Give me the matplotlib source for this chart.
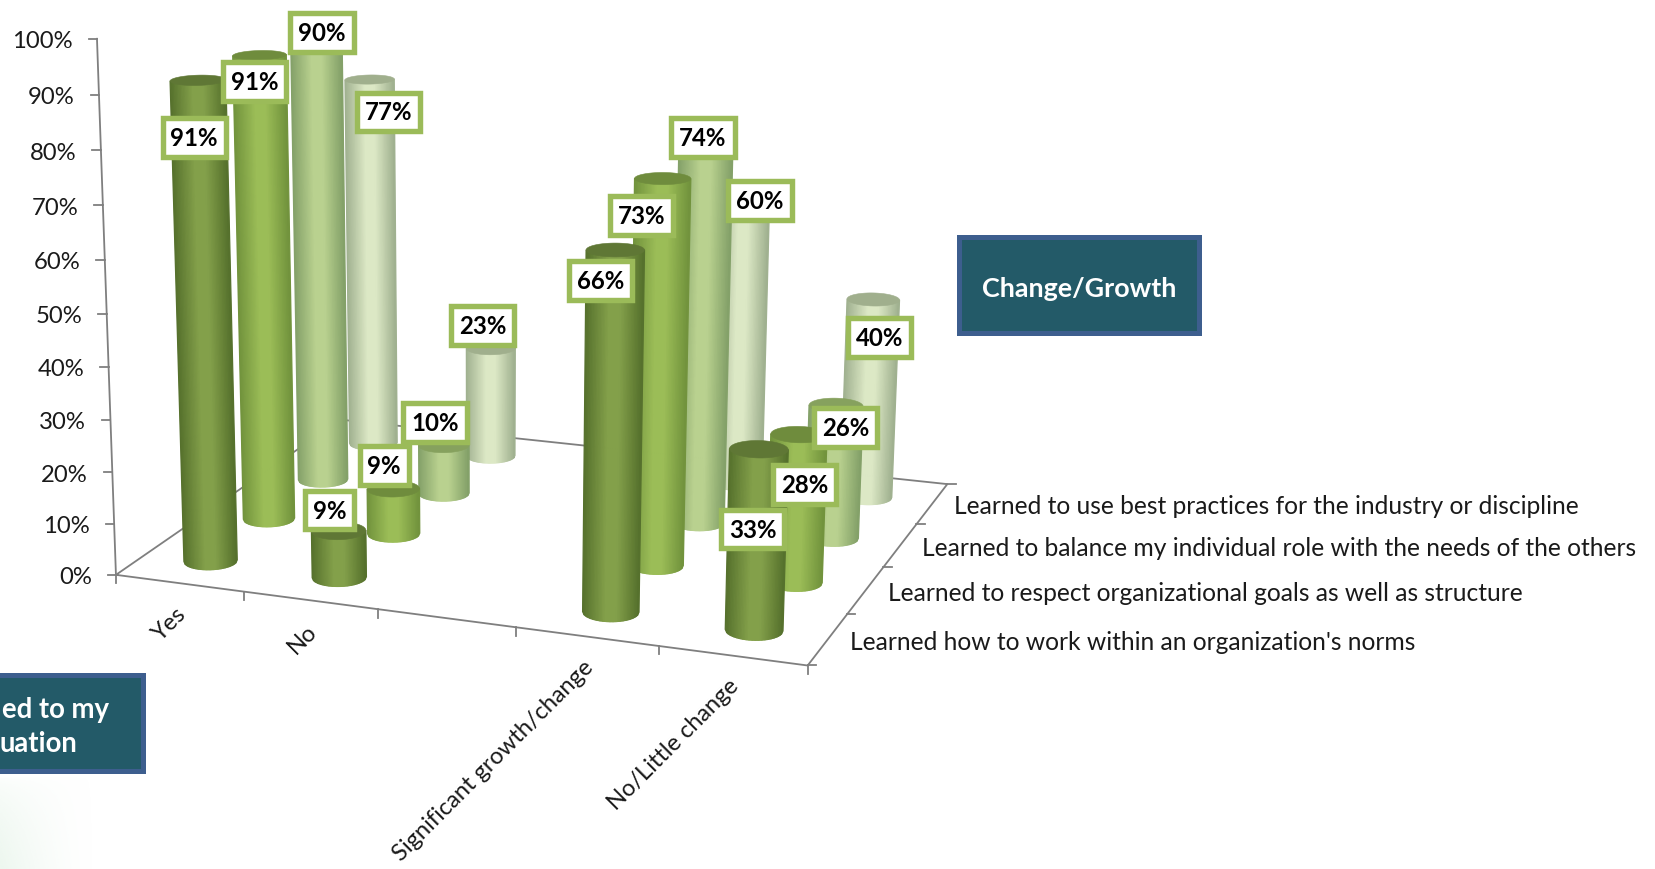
import numpy as np
import matplotlib
matplotlib.use('Agg')
import matplotlib.pyplot as plt
from matplotlib.collections import PolyCollection
from matplotlib.colors import LinearSegmentedColormap, to_rgb
from matplotlib.patches import Rectangle, Polygon

plt.rcParams['font.family'] = ['Lato', 'DejaVu Sans']

# Chart data
categories = ['Yes', 'No', '', 'Significant growth/change', 'No/Little change']
series_names = ["Learned how to work within an organization's norms",
                'Learned to respect organizational goals as well as structure',
                'Learned to balance my individual role with the needs of the others',
                'Learned to use best practices for the industry or discipline']
norms = [91, 9, None, 66, 33]
goals = [91, 9, None, 73, 28]
balance = [90, 10, None, 74, 26]
practices = [77, 23, None, 60, 40]
y_ticks = list(range(0, 101, 10))

# Colours per series: edge of cylinder, middle of cylinder, top cap
series_values = [norms, goals, balance, practices]
series_edge = ['#55702c', '#71923c', '#83a068', '#9fb08f']
series_mid = ['#83a04a', '#9bbd57', '#b9d18f', '#dce8c5']
series_cap = ['#5f7735', '#6f8c3d', '#86a15e', '#a0af8d']

# Where labels sit, in the 1568x824 coordinates of the axes
label_pos = [[(184, 130), (312, 483), None, (569, 266), (713, 501)],
             [(241, 77), (364, 441), None, (608, 204), (762, 459)],
             [(305, 31), (412, 400), None, (666, 130), (801, 405)],
             [(368, 106), (457, 308), None, (720, 190), (833, 320)]]

# Camera calibration: (category, series, value) -> (px, py) of the 3D box
calib_world = np.array([[0, 0, 0], [5, 0, 0], [5, 4, 0], [0, 4, 0], [0, 0, 100], [0, 0, 50],
                        [2, 0, 0], [4, 0, 0], [5, 2, 0],
                        [0.5, 0.5, 91], [0.5, 0.5, 0], [0.5, 3.5, 77], [0.5, 3.5, 0],
                        [4.5, 0.5, 33], [4.5, 0.5, 0], [4.5, 3.5, 40], [4.5, 3.5, 0],
                        [3.5, 0.5, 66], [3.5, 0.5, 0]], dtype=float)
calib_px = np.array([[110, 545], [765, 632], [898, 458], [322, 400], [92, 37], [101, 297],
                     [359, 578], [623, 613], [837, 538],
                     [188, 80], [200, 533], [351, 80], [355, 418],
                     [716, 431], [714, 597], [825, 291], [820, 472],
                     [582, 245], [581, 580]], dtype=float)
# the box corners matter more than the bar readings
calib_weight = [4, 4, 4, 3, 4, 3, 2, 2, 2, 1, 1, 1, 1, 1, 1, 1, 1, 1, 1]


# Fit a 3x4 projection matrix with the usual DLT
def fit_projection(world, px, weight):
    rows = []
    for (x, y, z), (u, v), w in zip(world * [1, 1, 0.05], px / 1000, weight):
        rows.append(np.array([x, y, z, 1, 0, 0, 0, 0, -u * x, -u * y, -u * z, -u]) * w)
        rows.append(np.array([0, 0, 0, 0, x, y, z, 1, -v * x, -v * y, -v * z, -v]) * w)
    h = np.linalg.svd(np.array(rows))[2][-1]
    return h.reshape(3, 4)


P = fit_projection(calib_world, calib_px, calib_weight)


def project(x, y, z):
    x, y, z = np.broadcast_arrays(x, y, z)
    pts = np.stack([x, y, z * 0.05, np.ones_like(x, dtype=float)], axis=-1)
    q = pts @ P.T
    return q[..., 0] / q[..., 2] * 1000, q[..., 1] / q[..., 2] * 1000


# Lower (front) side of a projected circle, resampled from left to right
def front_arc(px, py, t):
    left = np.argmin(px)
    px, py = np.roll(px, -left), np.roll(py, -left)
    right = np.argmax(px)
    a_x, a_y = px[:right + 1], py[:right + 1]
    b_x, b_y = np.r_[px[right:], px[0]][::-1], np.r_[py[right:], py[0]][::-1]
    if a_y.mean() < b_y.mean():
        a_x, a_y = b_x, b_y
    xs = px[0] + t * (px[right] - px[0])
    return xs, np.interp(xs, a_x, a_y)


def draw_cylinder(ax, cat, ser, value, radius=0.19):
    cx, cy = cat + 0.5, ser + 0.5
    theta = np.linspace(0, 2 * np.pi, 240, endpoint=False)
    wx, wy = cx + radius * np.cos(theta), cy + radius * np.sin(theta)
    bx, by = project(wx, wy, 0 * wx)
    tx, ty = project(wx, wy, value + 0 * wx)
    t = np.linspace(0, 1, 41)
    bot_x, bot_y = front_arc(bx, by, t)
    top_x, top_y = front_arc(tx, ty, t)
    quads = [[(bot_x[i], bot_y[i]), (bot_x[i + 1], bot_y[i + 1]),
              (top_x[i + 1], top_y[i + 1]), (top_x[i], top_y[i])] for i in range(40)]
    cmap = LinearSegmentedColormap.from_list(
        'cyl', [series_edge[ser], series_mid[ser], series_mid[ser], series_edge[ser]])
    # stretch the light part so the shading looks round
    shade = cmap(np.interp(t[:-1] + 1 / 80, [0, 0.42, 0.6, 1], [0, 0.34, 0.66, 1]))
    ax.add_collection(PolyCollection(quads, facecolors=shade, edgecolors=shade, linewidths=0.9, zorder=3))
    ax.add_patch(Polygon(np.c_[tx, ty], closed=True, fc=series_cap[ser], ec=series_cap[ser], lw=0.4, zorder=3))


fig = plt.figure(figsize=(16.55, 8.7), dpi=100)
ax = fig.add_axes([0, 0, 1, 1])

# Pale green glow in the bottom left corner
glow = np.linspace(1, 0, 64)[None, :] ** 1.5 * np.linspace(0, 1, 32)[:, None] ** 0.5
glow_img = np.ones((32, 64, 4))
glow_img[..., :3] = to_rgb('#edf7ef')
glow_img[..., 3] = glow
ax.imshow(glow_img, extent=(0, 90, 824, 735), aspect='auto', zorder=0)
ax.set_xlim(0, 1568)
ax.set_ylim(824, 0)
ax.axis('off')

# Floor outline and value axis
axis_color = '#7f7f7f'
frame = [(0, 0, 0), (5, 0, 0), (5, 4, 0), (0, 4, 0), (0, 0, 0)]
fx, fy = project(*np.array(frame, dtype=float).T)
ax.plot(fx, fy, color=axis_color, lw=1.3, zorder=1)
ax_x, ax_y = project(0.0 * np.ones(2), 0.0 * np.ones(2), np.array([0.0, 100.0]))
ax.plot(ax_x, ax_y, color=axis_color, lw=1.3, zorder=1)

for v in y_ticks:
    tx, ty = project(0.0, 0.0, float(v))
    ax.plot([tx - 8, tx], [ty, ty], color=axis_color, lw=1.3, zorder=1)
    ax.text(tx - 23, ty + 2, f'{v}%', ha='right', va='center', fontsize=17.2, color='#1a1a1a')

# Category ticks on the front edge, series ticks on the right edge
for i in range(len(categories) + 1):
    tx, ty = project(float(i), 0.0, 0.0)
    ax.plot([tx, tx], [ty, ty + 8], color=axis_color, lw=1.3, zorder=1)
for i in range(len(series_names) + 1):
    tx, ty = project(5.0, float(i), 0.0)
    ax.plot([tx, tx + 8], [ty, ty], color=axis_color, lw=1.3, zorder=1)

for i, name in enumerate(categories):
    tx, ty = project(i + 0.5, 0.0, 0.0)
    ax.text(tx + 3, ty + 25, name, rotation=45, rotation_mode='anchor', ha='right', va='center',
            fontsize=17.0, color='#1a1a1a')

for i, name in enumerate(series_names):
    tx, ty = project(5.0, i + 0.5, 0.0)
    ax.text(tx + 21, ty + 2, name, ha='left', va='center', fontsize=17.7, color='#1a1a1a')

# Cylinders, back row first
for ser in range(3, -1, -1):
    for cat, value in enumerate(series_values[ser]):
        if value is not None:
            draw_cylinder(ax, cat, ser, value)

# Data labels
for ser, values in enumerate(series_values):
    for cat, value in enumerate(values):
        if value is not None:
            lx, ly = label_pos[ser][cat]
            ax.text(lx, ly + 1, f'{value}%', ha='center', va='center', fontsize=17.3, fontweight='bold',
                    color='black', zorder=5,
                    bbox=dict(boxstyle='square,pad=0.33', fc='white', ec='#9bbb59', lw=3.9))

# Dark boxes
box_fill = '#235a68'
box_edge = '#3d5e8e'
ax.add_patch(Rectangle((908.5, 225.5), 227, 90.5, fc=box_fill, ec=box_edge, lw=3.6, zorder=4))
ax.text(1022, 273.5, 'Change/Growth', ha='center', va='center', fontsize=19.4, fontweight='bold', color='white', zorder=5)
ax.add_patch(Rectangle((-10, 640.5), 145.5, 90.5, fc=box_fill, ec=box_edge, lw=3.6, zorder=4))
ax.text(103, 672, 'ed to my', ha='right', va='center', fontsize=19.8, fontweight='bold', color='white', zorder=5)
ax.text(73, 705, 'uation', ha='right', va='center', fontsize=19.8, fontweight='bold', color='white', zorder=5)

fig.savefig('out.png', dpi=100)
